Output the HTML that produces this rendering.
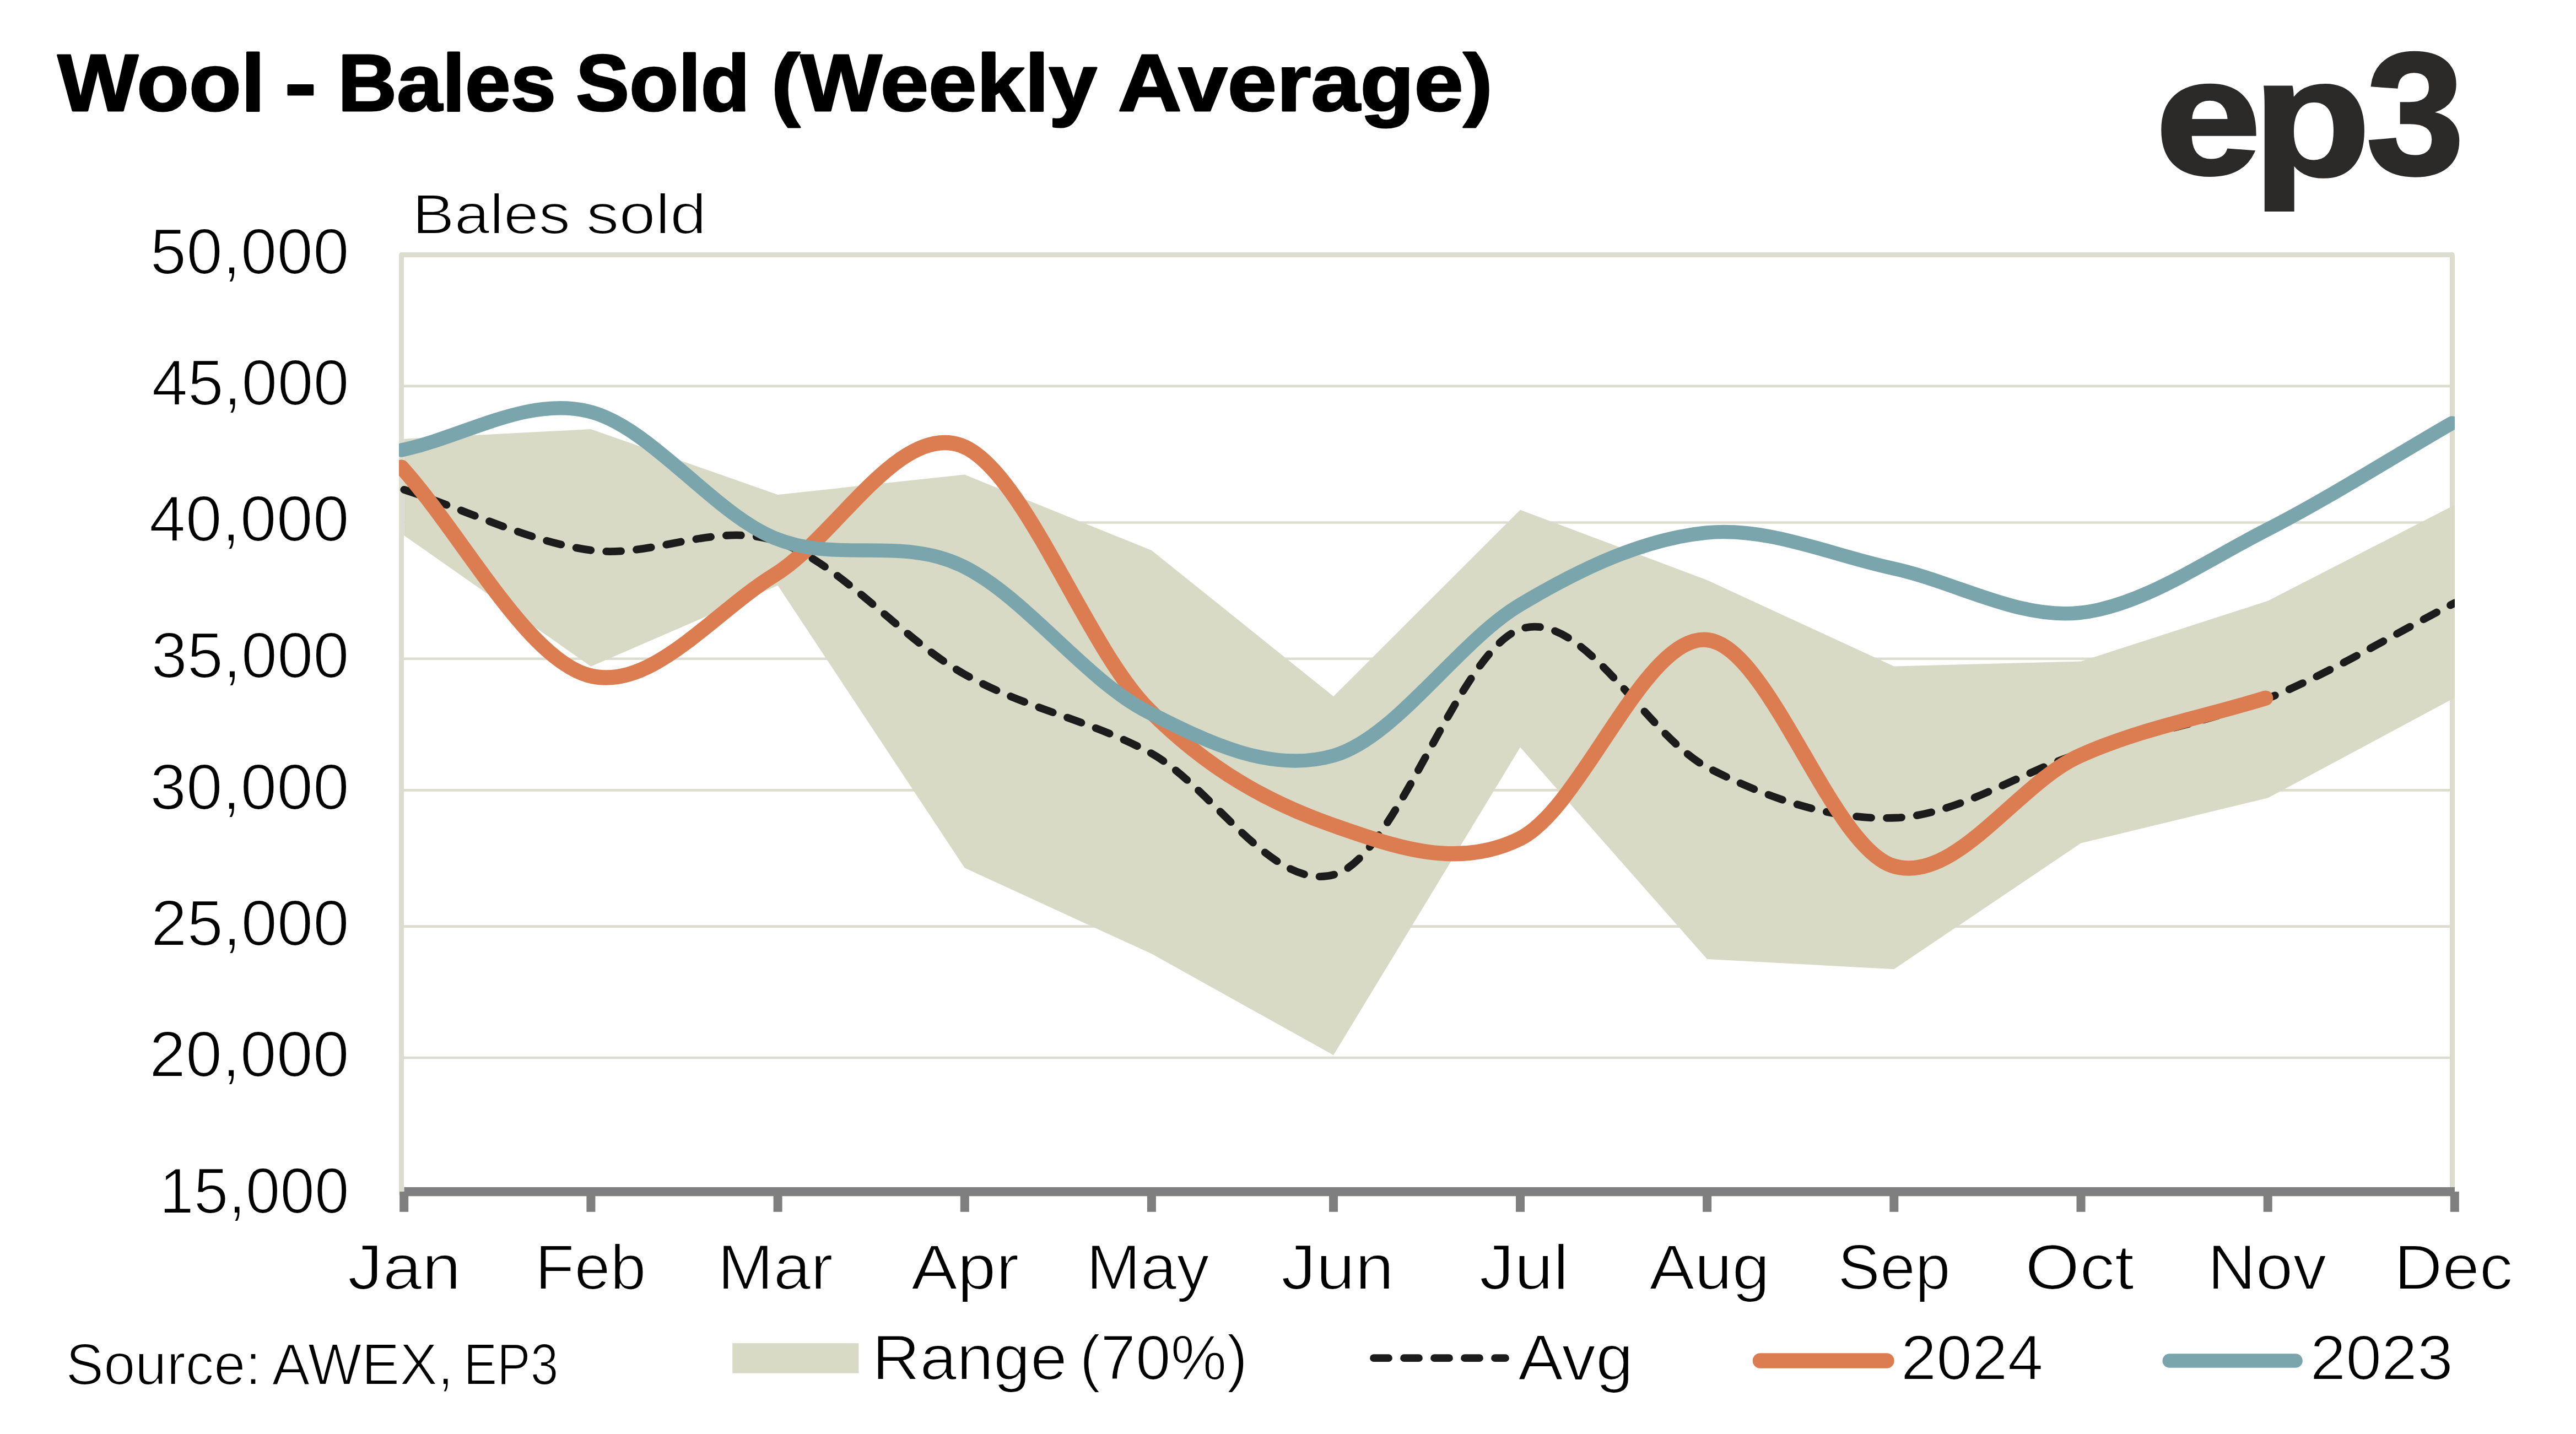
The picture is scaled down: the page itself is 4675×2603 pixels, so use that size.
<!DOCTYPE html>
<html lang="en"><head><meta charset="utf-8"><title>Wool - Bales Sold (Weekly Average)</title>
<style>html,body{margin:0;padding:0;background:#fff;overflow:hidden}svg{display:block}text{font-family:"Liberation Sans",sans-serif;fill:#000}</style></head><body>
<svg xmlns="http://www.w3.org/2000/svg" width="4675" height="2603" viewBox="0 0 4675 2603">
<rect width="4675" height="2603" fill="#fff"/>
<defs><clipPath id="pc"><rect x="724.1" y="440" width="3730.8" height="1740"/></clipPath></defs>
<g fill="none" stroke="#dcddcf" stroke-linejoin="round" stroke-linecap="butt">
<rect x="728.6" y="462.6" width="3721.8" height="1704.9" stroke-width="9"/>
<line x1="728.6" y1="700.9" x2="4450.4" y2="700.9" stroke-width="4.6"/>
<line x1="728.6" y1="948.5" x2="4450.4" y2="948.5" stroke-width="4.6"/>
<line x1="728.6" y1="1195.8" x2="4450.4" y2="1195.8" stroke-width="4.6"/>
<line x1="728.6" y1="1434.4" x2="4450.4" y2="1434.4" stroke-width="4.6"/>
<line x1="728.6" y1="1681.6" x2="4450.4" y2="1681.6" stroke-width="4.6"/>
<line x1="728.6" y1="1920" x2="4450.4" y2="1920" stroke-width="4.6"/>
</g>
<polygon fill="#d8dac6" points="733.2,796.7 1072.4,779 1411.6,897.9 1750.8,861.6 2089.9,999.1 2420,1264 2759,925.5 3098.1,1053 3437.3,1209.5 3776.5,1200.5 4115.7,1090.8 4454.8,916.6 4454.8,1266.6 4115.7,1448.6 3776.5,1530.5 3437.3,1759.2 3098.1,1741 2759,1356.5 2420,1915.2 2089.9,1731.3 1750.8,1575.6 1411.6,1062.7 1072.4,1209.7 733.2,971.9"/>
<g clip-path="url(#pc)" fill="none" stroke-linecap="round" stroke-linejoin="round">
<path d="M733.3,888.9 C846.1,925.5 958.8,983.1 1071.6,998.7 C1184.4,1014.3 1297.2,945.4 1409.9,982.7 C1522.7,1020 1635.5,1158.8 1748.3,1222.7 C1861,1286.6 1973.8,1305.3 2086.6,1365.9 C2199.3,1426.5 2312.1,1624 2424.9,1586.5 C2537.7,1549 2650.4,1172.7 2763.2,1140.7 C2876,1108.7 2988.8,1337.3 3101.5,1394.6 C3214.3,1451.9 3327.1,1489.3 3439.8,1484.5 C3552.6,1479.7 3665.4,1402.2 3778.2,1366 C3890.9,1329.8 4003.7,1312.8 4116.5,1267.5 C4229.3,1222.2 4342,1152.2 4454.8,1094.5" stroke="#1c1c1c" stroke-width="13.8" stroke-dasharray="27 28"/>
<path d="M728.7,848.1 C841.5,973.9 954.2,1192.9 1067,1225.5 C1179.8,1258.1 1292.5,1113.4 1405.3,1043.9 C1518.1,974.4 1630.8,768.2 1743.6,808.4 C1856.4,848.6 1969.1,1170.1 2081.9,1285.1 C2194.7,1400.1 2307.4,1458.9 2420.2,1498.4 C2533,1537.9 2645.7,1578.5 2758.5,1522.3 C2871.3,1466.1 2984,1153.1 3096.8,1161.3 C3209.6,1169.5 3322.3,1536.4 3435.1,1571.6 C3547.9,1606.8 3660.6,1422.9 3773.4,1372.2 C3886.2,1321.5 3998.9,1302.2 4111.7,1267.2" stroke="#dc7d51" stroke-width="27.4"/>
<path d="M728.7,817 C841.5,793.4 954.2,719.7 1067,746.3 C1179.8,772.9 1292.5,929.8 1405.3,976.4 C1518.1,1023 1630.8,973.4 1743.6,1025.9 C1856.4,1078.4 1969.1,1234 2081.9,1291.6 C2194.7,1349.2 2307.4,1403.9 2420.2,1371.6 C2533,1339.3 2645.7,1165.3 2758.5,1097.9 C2871.3,1030.5 2984,978.1 3096.8,967 C3209.6,955.9 3322.3,1007.3 3435.1,1031.6 C3547.9,1055.8 3660.6,1124 3773.4,1112.5 C3886.2,1101 3998.9,1020.3 4111.7,962.9 C4224.5,905.5 4337.2,832.9 4450,767.9" stroke="#7aa5ad" stroke-width="25.4"/>
</g>
<g fill="#7f7f7f">
<rect x="733.5" y="2155" width="3721.4" height="16"/>
<rect x="725.2" y="2163" width="16" height="36.8"/>
<rect x="1064.4" y="2163" width="16" height="36.8"/>
<rect x="1403.6" y="2163" width="16" height="36.8"/>
<rect x="1742.8" y="2163" width="16" height="36.8"/>
<rect x="2081.9" y="2163" width="16" height="36.8"/>
<rect x="2412" y="2163" width="16" height="36.8"/>
<rect x="2751" y="2163" width="16" height="36.8"/>
<rect x="3090.1" y="2163" width="16" height="36.8"/>
<rect x="3429.3" y="2163" width="16" height="36.8"/>
<rect x="3768.5" y="2163" width="16" height="36.8"/>
<rect x="4107.7" y="2163" width="16" height="36.8"/>
<rect x="4446.8" y="2163" width="16" height="36.8"/>
</g>
<text x="104.6" y="201.4" font-size="146.6" font-weight="bold" textLength="376.2" lengthAdjust="spacingAndGlyphs" stroke="#000" stroke-width="3" stroke-linejoin="round">Wool</text>
<text x="516.5" y="201.4" font-size="146.6" font-weight="bold" textLength="58" lengthAdjust="spacingAndGlyphs" stroke="#000" stroke-width="3" stroke-linejoin="round">-</text>
<text x="612.9" y="201.4" font-size="146.6" font-weight="bold" textLength="396.3" lengthAdjust="spacingAndGlyphs" stroke="#000" stroke-width="3" stroke-linejoin="round">Bales</text>
<text x="1045.1" y="201.4" font-size="145" font-weight="bold" textLength="315.5" lengthAdjust="spacingAndGlyphs" stroke="#000" stroke-width="3" stroke-linejoin="round">Sold</text>
<text x="1399.8" y="201.4" font-size="146.6" font-weight="bold" textLength="591.2" lengthAdjust="spacingAndGlyphs" stroke="#000" stroke-width="3" stroke-linejoin="round">(Weekly</text>
<text x="2028.7" y="201.4" font-size="146.6" font-weight="bold" textLength="680.3" lengthAdjust="spacingAndGlyphs" stroke="#000" stroke-width="3" stroke-linejoin="round">Average)</text>
<text x="272.6" y="496.7" font-size="116.7" textLength="361.1" lengthAdjust="spacingAndGlyphs" stroke="#fff" stroke-width="2.2" stroke-linejoin="round">50,000</text>
<text x="275.6" y="734.5" font-size="116.7" textLength="358.1" lengthAdjust="spacingAndGlyphs" stroke="#fff" stroke-width="2.2" stroke-linejoin="round">45,000</text>
<text x="270.7" y="982.2" font-size="116.7" textLength="363" lengthAdjust="spacingAndGlyphs" stroke="#fff" stroke-width="2.2" stroke-linejoin="round">40,000</text>
<text x="274.5" y="1229.5" font-size="116.7" textLength="359.1" lengthAdjust="spacingAndGlyphs" stroke="#fff" stroke-width="2.2" stroke-linejoin="round">35,000</text>
<text x="272.2" y="1468.6" font-size="116.7" textLength="361.5" lengthAdjust="spacingAndGlyphs" stroke="#fff" stroke-width="2.2" stroke-linejoin="round">30,000</text>
<text x="274" y="1715.9" font-size="116.7" textLength="359.6" lengthAdjust="spacingAndGlyphs" stroke="#fff" stroke-width="2.2" stroke-linejoin="round">25,000</text>
<text x="271" y="1954.4" font-size="116.7" textLength="362.7" lengthAdjust="spacingAndGlyphs" stroke="#fff" stroke-width="2.2" stroke-linejoin="round">20,000</text>
<text x="289.2" y="2201.6" font-size="116.7" textLength="344.3" lengthAdjust="spacingAndGlyphs" stroke="#fff" stroke-width="2.2" stroke-linejoin="round">15,000</text>
<text x="748.2" y="423.7" font-size="102" textLength="286.8" lengthAdjust="spacingAndGlyphs" stroke="#fff" stroke-width="2.2" stroke-linejoin="round">Bales</text>
<text x="1064" y="423.7" font-size="102" textLength="218.1" lengthAdjust="spacingAndGlyphs" stroke="#fff" stroke-width="2.2" stroke-linejoin="round">sold</text>
<text x="631" y="2339.6" font-size="115.9" textLength="205.7" lengthAdjust="spacingAndGlyphs" stroke="#fff" stroke-width="2.2" stroke-linejoin="round">Jan</text>
<text x="971.1" y="2339.6" font-size="115.9" textLength="201.4" lengthAdjust="spacingAndGlyphs" stroke="#fff" stroke-width="2.2" stroke-linejoin="round">Feb</text>
<text x="1302.3" y="2339.6" font-size="115.9" textLength="209.6" lengthAdjust="spacingAndGlyphs" stroke="#fff" stroke-width="2.2" stroke-linejoin="round">Mar</text>
<text x="1653.7" y="2339.6" font-size="115.9" textLength="195.8" lengthAdjust="spacingAndGlyphs" stroke="#fff" stroke-width="2.2" stroke-linejoin="round">Apr</text>
<text x="1971.5" y="2339.6" font-size="115.9" textLength="223" lengthAdjust="spacingAndGlyphs" stroke="#fff" stroke-width="2.2" stroke-linejoin="round">May</text>
<text x="2325" y="2339.6" font-size="115.9" textLength="205" lengthAdjust="spacingAndGlyphs" stroke="#fff" stroke-width="2.2" stroke-linejoin="round">Jun</text>
<text x="2684.7" y="2339.6" font-size="115.9" textLength="162.3" lengthAdjust="spacingAndGlyphs" stroke="#fff" stroke-width="2.2" stroke-linejoin="round">Jul</text>
<text x="2993.2" y="2339.6" font-size="115.9" textLength="218.8" lengthAdjust="spacingAndGlyphs" stroke="#fff" stroke-width="2.2" stroke-linejoin="round">Aug</text>
<text x="3335.2" y="2339.6" font-size="115.9" textLength="204.6" lengthAdjust="spacingAndGlyphs" stroke="#fff" stroke-width="2.2" stroke-linejoin="round">Sep</text>
<text x="3675.3" y="2339.6" font-size="115.9" textLength="197.7" lengthAdjust="spacingAndGlyphs" stroke="#fff" stroke-width="2.2" stroke-linejoin="round">Oct</text>
<text x="4006.2" y="2339.6" font-size="115.9" textLength="215.9" lengthAdjust="spacingAndGlyphs" stroke="#fff" stroke-width="2.2" stroke-linejoin="round">Nov</text>
<text x="4345" y="2339.6" font-size="115.9" textLength="215.4" lengthAdjust="spacingAndGlyphs" stroke="#fff" stroke-width="2.2" stroke-linejoin="round">Dec</text>
<text x="119.6" y="2513.1" font-size="106.3" textLength="354.3" lengthAdjust="spacingAndGlyphs" stroke="#fff" stroke-width="2.2" stroke-linejoin="round">Source:</text>
<text x="493.6" y="2513.1" font-size="106.3" textLength="329.4" lengthAdjust="spacingAndGlyphs" stroke="#fff" stroke-width="2.2" stroke-linejoin="round">AWEX,</text>
<text x="841.4" y="2513.1" font-size="106.3" textLength="172.1" lengthAdjust="spacingAndGlyphs" stroke="#fff" stroke-width="2.2" stroke-linejoin="round">EP3</text>
<text x="1582.8" y="2504" font-size="115" textLength="353.9" lengthAdjust="spacingAndGlyphs" stroke="#fff" stroke-width="2.2" stroke-linejoin="round">Range</text>
<text x="1959.2" y="2504" font-size="115" textLength="305.3" lengthAdjust="spacingAndGlyphs" stroke="#fff" stroke-width="2.2" stroke-linejoin="round">(70%)</text>
<text x="2755" y="2504.5" font-size="116.2" textLength="209.1" lengthAdjust="spacingAndGlyphs" stroke="#fff" stroke-width="2.2" stroke-linejoin="round">Avg</text>
<text x="3449.7" y="2503.9" font-size="115.7" textLength="258.4" lengthAdjust="spacingAndGlyphs" stroke="#fff" stroke-width="2.2" stroke-linejoin="round">2024</text>
<text x="4192.4" y="2503.6" font-size="115.7" textLength="259.4" lengthAdjust="spacingAndGlyphs" stroke="#fff" stroke-width="2.2" stroke-linejoin="round">2023</text>
<text font-weight="bold" style="fill:#2b2a29" stroke="#2b2a29" stroke-width="5" stroke-linejoin="miter"><tspan x="3911.7" y="315.6" font-size="299.7" textLength="191.8" lengthAdjust="spacingAndGlyphs">e</tspan><tspan x="4088.2" y="318.4" font-size="303.6" textLength="214.2" lengthAdjust="spacingAndGlyphs">p</tspan><tspan x="4294.3" y="315.6" font-size="315.6" textLength="178" lengthAdjust="spacingAndGlyphs">3</tspan></text>
<rect x="1329.2" y="2438.2" width="229.2" height="54.5" fill="#d8dac6"/>
<line x1="2493" y1="2465.2" x2="2732" y2="2465.2" stroke="#1c1c1c" stroke-width="13.8" stroke-dasharray="27 28" stroke-linecap="round"/>
<line x1="3194.5" y1="2470" x2="3423.9" y2="2470" stroke="#dc7d51" stroke-width="27.6" stroke-linecap="round"/>
<line x1="3937.3" y1="2470" x2="4166" y2="2470" stroke="#7aa5ad" stroke-width="25.6" stroke-linecap="round"/>
</svg></body></html>
